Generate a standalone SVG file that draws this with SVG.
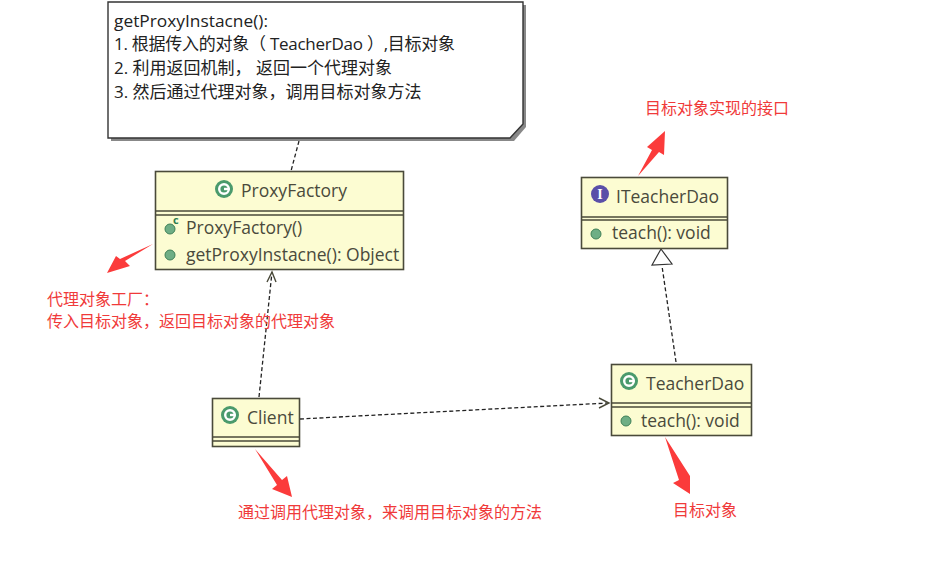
<svg xmlns="http://www.w3.org/2000/svg" width="937" height="586" viewBox="0 0 937 586">
<style>
.t{font-family:"Open Sans","DejaVu Sans","Noto Sans CJK SC",sans-serif;font-size:17.5px;fill:#4a4a3c}
.n{font-family:"Open Sans","Noto Sans CJK SC",sans-serif;font-size:17px;fill:#222}
.r{font-family:"Noto Sans CJK SC",sans-serif;font-size:16px;fill:#f03a3a}
.b{fill:#fcfcd2;stroke:#4a4a3a;stroke-width:1.6}
.l{fill:none;stroke:#4a4a3a;stroke-width:1.4}
.d{fill:none;stroke:#222;stroke-width:1.3;stroke-dasharray:4 2.500}
.m{fill:#6fae85;stroke:#3f8058;stroke-width:1}
.a{fill:#fb3b3b}
</style>
<defs>
<g id="cico"><circle r="9" fill="#4a9a6c"/><circle r="4.800" fill="none" stroke="#fff" stroke-width="2.400"/><rect x="0" y="-1.200" width="5.500" height="2.400" fill="#fff"/></g>
</defs>
<rect width="937" height="586" fill="#fff"/>
<g id="connectors">
<path class="d" d="M299 141L291 171"/>
<path class="d" d="M259 397L272 272"/>
<path class="l" d="M267 282L272 272L276 282"/>
<path class="d" d="M300 419L608 403"/>
<path class="l" d="M599 398L609 403L599 408"/>
<path class="d" d="M676 362L662 266"/>
<path d="M661 249L652 265L672 264Z" fill="#fff" stroke="#333" stroke-width="1.2"/>
</g>
<g id="note">
<path d="M111 5H526V127L514 141H111Z" fill="#888"/>
<path d="M108 2H523V124L510 138H108Z" fill="#fff" stroke="#333" stroke-width="1.4"/>
<text class="n" x="114" y="27" textLength="154" lengthAdjust="spacingAndGlyphs">getProxyInstacne():</text>
<text class="n" x="114" y="50" textLength="341">1. 根据传入的对象（ TeacherDao ）,目标对象</text>
<text class="n" x="114" y="74">2. 利用返回机制， 返回一个代理对象</text>
<text class="n" x="114" y="98">3. 然后通过代理对象，调用目标对象方法</text>
</g>
<g id="ProxyFactory">
<rect class="b" x="155.500" y="171.500" width="248" height="98"/>
<path class="l" d="M155 211H403M155 215H403"/>
<use href="#cico" x="224" y="189"/>
<text class="t" x="241" y="197">ProxyFactory</text>
<circle class="m" cx="170" cy="229" r="5"/>
<text x="173" y="224" font-family="Open Sans,sans-serif" font-size="11" font-weight="700" fill="#2e7d4f">c</text>
<text class="t" x="186" y="234">ProxyFactory()</text>
<circle class="m" cx="170" cy="255" r="5"/>
<text class="t" x="186" y="261">getProxyInstacne(): Object</text>
</g>
<g id="ITeacherDao">
<rect class="b" x="581.500" y="177.500" width="146" height="71"/>
<path class="l" d="M581 217H727M581 220H727"/>
<circle cx="600" cy="194" r="9" fill="#5a4fa8"/>
<text x="600" y="199" text-anchor="middle" font-family="Liberation Serif,serif" font-size="14" font-weight="700" fill="#fff">I</text>
<text class="t" x="616" y="203">ITeacherDao</text>
<circle class="m" cx="596" cy="234" r="5"/>
<text class="t" x="612" y="239">teach(): void</text>
</g>
<g id="TeacherDao">
<rect class="b" x="611.500" y="364.500" width="140" height="71"/>
<path class="l" d="M611 403H751M611 407H751"/>
<use href="#cico" x="629" y="381"/>
<text class="t" x="646" y="390">TeacherDao</text>
<circle class="m" cx="626" cy="421" r="5"/>
<text class="t" x="641" y="427">teach(): void</text>
</g>
<g id="Client">
<rect class="b" x="212.500" y="398.500" width="87" height="48"/>
<path class="l" d="M212 437H299M212 441H299"/>
<use href="#cico" x="230" y="415"/>
<text class="t" x="247" y="424">Client</text>
</g>
<g id="annotations">
<path class="a" d="M153 244L125 261L130 266L107 273L116 256L120 259Z"/>
<path class="a" d="M638 176L652 150L647 147L665 131L664 155L659 152Z"/>
<path class="a" d="M255 449L282 480L287 476L292 497L272 489L277 485Z"/>
<path class="a" d="M665 437L690 476V494L673 483L679 480Z"/>
<text class="r" x="645" y="114">目标对象实现的接口</text>
<text class="r" x="47" y="305">代理对象工厂：</text>
<text class="r" x="47" y="327">传入目标对象，返回目标对象的代理对象</text>
<text class="r" x="238" y="518">通过调用代理对象，来调用目标对象的方法</text>
<text class="r" x="673" y="516">目标对象</text>
</g>
</svg>
